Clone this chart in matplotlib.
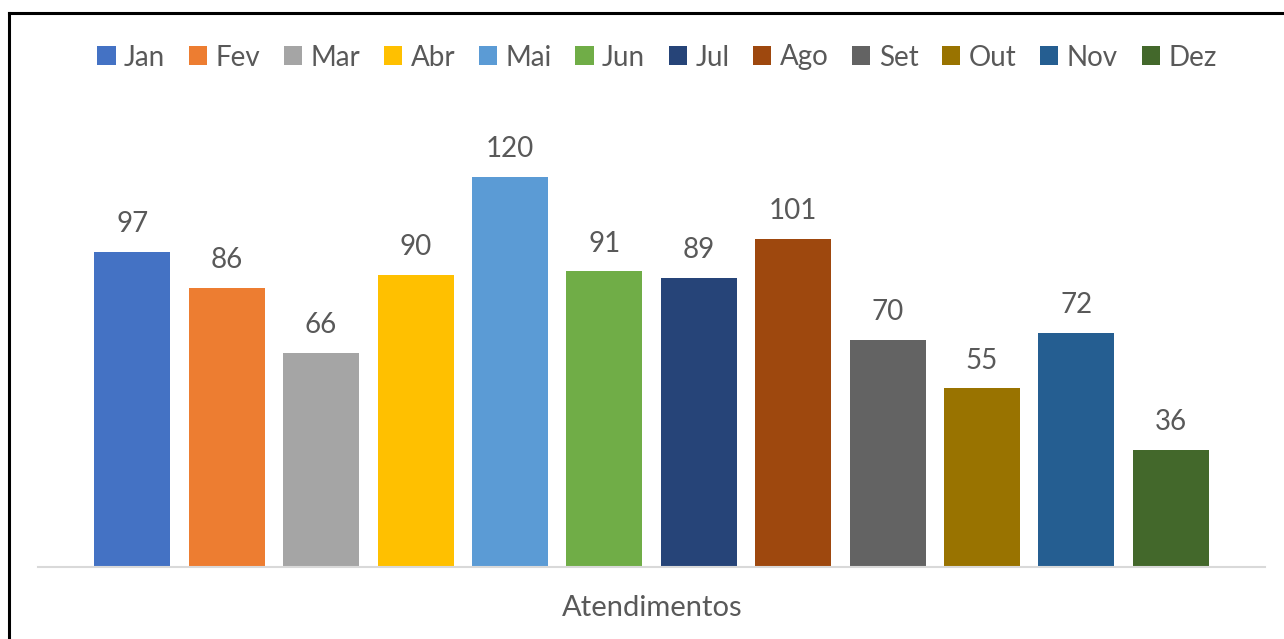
import matplotlib
matplotlib.use("Agg")
import matplotlib.pyplot as plt
from matplotlib.lines import Line2D
from matplotlib.patches import Patch

months = ["Jan", "Fev", "Mar", "Abr", "Mai", "Jun", "Jul", "Ago", "Set", "Out", "Nov", "Dez"]
values = [97, 86, 66, 90, 120, 91, 89, 101, 70, 55, 72, 36]
colors = ["#4472C4", "#ED7D31", "#A5A5A5", "#FFC000", "#5B9BD5", "#70AD47",
          "#264478", "#9E480E", "#636363", "#997300", "#255E91", "#43682B"]
category = "Atendimentos"

W, H = 1284, 639
plt.rcParams["font.family"] = ["Lato", "DejaVu Sans"]
text_color = "#595959"

fig = plt.figure(figsize=(W / 100, H / 100), dpi=100)
ax = fig.add_axes([38 / W, (H - 567) / H, 1227 / W, (567 - 112) / H])

n = len(values)
pitch = 94.4 / 1227
width = 76 / 1227
offsets = [(i - (n - 1) / 2) * pitch for i in range(n)]
for off, v, c, m in zip(offsets, values, colors, months):
    ax.bar(off, v, width=width, color=c, label=m, zorder=2)
    ax.annotate(f"{v}", (off, v), xytext=(0, 10.5), textcoords="offset points",
                ha="center", va="bottom", fontsize=20, color=text_color)

ax.set_xlim(-0.5, 0.5)
ax.set_ylim(0, 140)
ax.set_yticks([])
ax.set_xticks([])
for s in ["top", "right", "left"]:
    ax.spines[s].set_visible(False)
ax.spines["bottom"].set_color("#D9D9D9")
ax.spines["bottom"].set_linewidth(1.5)
ax.spines["bottom"].set_zorder(3)

fig.text(652 / W, 1 - 608 / H, category, ha="center", va="center",
         fontsize=21, color=text_color)

handles = [Patch(facecolor=c, edgecolor="none") for c in colors]
leg = fig.legend(handles, months, loc="center", bbox_to_anchor=(657 / W, 1 - 57.5 / H),
                 ncol=n, frameon=False, fontsize=20, handlelength=0.65, handleheight=0.65,
                 handletextpad=0.3, columnspacing=0.86, labelcolor=text_color)

# chart frame (top and left edges)
fig.add_artist(Line2D([9 / W, 1.0], [1 - 13 / H, 1 - 13 / H], color="black",
                      linewidth=2.2, transform=fig.transFigure))
fig.add_artist(Line2D([9 / W, 9 / W], [0.0, 1 - 13 / H], color="black",
                      linewidth=2.2, transform=fig.transFigure))

fig.savefig("out.png", dpi=100)
